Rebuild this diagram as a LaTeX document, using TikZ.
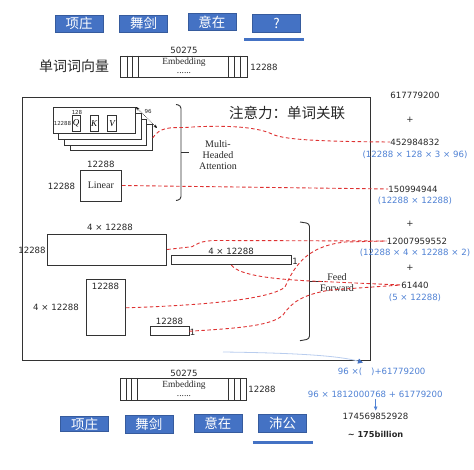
\documentclass[tikz,border=0pt]{standalone}
\usepackage{fontspec}
\setmainfont{Liberation Serif}
\newfontfamily\cjk{Noto Sans CJK SC}
\newfontfamily\numf{DejaVu Sans}
\usetikzlibrary{arrows.meta}
\definecolor{boxblue}{RGB}{68,114,196}
\definecolor{textblue}{RGB}{79,129,212}
\definecolor{dashred}{RGB}{222,50,50}
\definecolor{lightline}{RGB}{185,205,238}
\tikzset{
 num/.style={font=\numf\fontsize{8.6}{10}\selectfont, text=black!85, inner sep=0pt},
 bnum/.style={num, text=textblue},
 tiny/.style={font=\numf\fontsize{5.5}{6}\selectfont, text=black!85, inner sep=0pt},
 serif/.style={font=\fontsize{10}{11}\selectfont, text=black!85, inner sep=0pt, align=center},
 embtxt/.style={font=\fontsize{9.4}{10}\selectfont, text=black!85, inner sep=0pt},
 cjklbl/.style={font=\cjk\fontsize{14}{15}\selectfont, text=black!85, inner sep=0pt},
 wordbox/.style={fill=boxblue, draw=boxblue!80!black, line width=0.5pt, minimum width=48pt, minimum height=17pt, inner sep=0pt, text=white, font=\cjk\fontsize{13.5}{14}\selectfont},
 bx/.style={draw=black!80, line width=0.9pt, inner sep=0pt},
 reddash/.style={draw=dashred, line width=0.9pt, dash pattern=on 3.5pt off 2.5pt},
 uline/.style={draw=boxblue, line width=3pt},
 brace/.style={draw=black!80, line width=0.9pt, rounded corners=3pt},
 embline/.style={draw=black!80, line width=0.9pt},
}
\begin{document}
\begin{tikzpicture}[x=1pt,y=-1pt]
\useasboundingbox (0,0) rectangle (474,470);
% top words
\node[wordbox] (w1) at (79.2,23.5) {项庄};
\node[wordbox] (w2) at (143.5,23.7) {舞剑};
\node[wordbox] (w3) at (211.8,22.2) {意在};
\node[wordbox, minimum height=18pt] (w4) at (276.5,23.3) {?};
\draw[uline] (244.3,40) -- (304.3,40);
% top embedding
\node[cjklbl] (wv) at (74,66) {单词词向量};
\node[bx, minimum width=126.5pt, minimum height=21.7pt] (embT) at (183.8,66.9) {};
\foreach \d in {7,12.6,18.6}{
  \draw[embline] ([xshift=\d pt]embT.north west) -- ([xshift=\d pt]embT.south west);
  \draw[embline] ([xshift=-\d pt]embT.north east) -- ([xshift=-\d pt]embT.south east);
}
\node[num] (embTn) at (184,50) {50275};
\node[embtxt] (embTt) at (184,62.5) {Embedding};
\node[embtxt] (embTd) at (184,73.5) {......};
\node[num] (embTr) at (264,67) {12288};
% frame
\node[bx, minimum width=348pt, minimum height=263.5pt, anchor=north west] (frame) at (22,97) {};
\node[cjklbl, font=\cjk\fontsize{14.5}{15}\selectfont] (title) at (287,113) {注意力：单词关联};
% attention stack
\foreach \i in {3,2,1,0}{
  \node[bx, fill=white, minimum width=82.3pt, minimum height=26pt, anchor=north west] (lay\i) at (52.7+5.6*\i,107+5.8*\i) {};
}
\node[bx, minimum width=7.7pt, minimum height=16.7pt] (qb) at (76.2,123.4) {};
\node[bx, minimum width=8.3pt, minimum height=16.7pt] (kb) at (94.2,123.4) {};
\node[bx, minimum width=9pt, minimum height=16.7pt] (vb) at (112.2,123.4) {};
\node[font=\itshape\fontsize{9}{10}\selectfont, inner sep=0pt] (qt) at (qb) {Q};
\node[font=\itshape\fontsize{9}{10}\selectfont, inner sep=0pt] (kt) at (kb) {K};
\node[font=\itshape\fontsize{9}{10}\selectfont, inner sep=0pt] (vt) at (vb) {V};
\node[tiny] (q128) at (77,112.3) {128};
\node[tiny] (q12288) at (62.5,123.2) {12288};
\coordinate (a96) at (157,128);
\draw[line width=0.6pt, densely dotted, {Stealth[length=3.5pt,width=3pt]}-{Stealth[length=3.5pt,width=3pt]}] (lay0.north east) -- (a96);
\node[tiny] (t96) at (148,111.5) {96};
% MHA brace
\draw[brace] (176,104.5) -- (181,105.5) -- (181,199.5) -- (176,200.5);
\draw[brace] (181,152.7) -- (189,152.7);
\node[serif] (mha) at (218,155) {Multi-\\Headed\\Attention};
% Linear
\node[bx, minimum width=41.7pt, minimum height=31pt] (lin) at (100.8,185.5) {};
\node[serif] (lint) at (lin) {Linear};
\node[num] (linTop) at (100.8,164.8) {12288};
\node[num] (linLeft) at (61.5,186.7) {12288};
% FF boxes
\node[bx, minimum width=119pt, minimum height=31pt] (ffA) at (107.2,249.5) {};
\node[num] (ffAtop) at (110,227.7) {4 × 12288};
\node[num] (ffAleft) at (32,250.7) {12288};
\node[bx, minimum width=119.3pt, minimum height=8.7pt] (bar1) at (231.3,260.3) {};
\node[num] (bar1top) at (231,251.5) {4 × 12288};
\node[num] (bar1r) at (295,261.5) {1};
\node[bx, minimum width=39.3pt, minimum height=55.7pt] (tall) at (105.7,307.8) {};
\node[num] (talltop) at (105.5,286.3) {12288};
\node[num] (tallleft) at (56,307.3) {4 × 12288};
\node[bx, minimum width=39pt, minimum height=9pt] (bar2) at (169.5,331.2) {};
\node[num] (bar2top) at (169.5,321.7) {12288};
\node[num] (bar2r) at (192.5,332.5) {1};
% FF brace
\draw[brace] (300,222) -- (309.5,223.5) -- (309.5,339) -- (300,340.7);
\draw[brace] (309.5,281) -- (323,281);
\node[serif] (ff) at (337,282.5) {Feed\\Forward};
% right column
\node[num] (n0) at (415,95) {617779200};
\node[num] (p1) at (410,120) {+};
\node[num] (n1) at (415,142) {452984832};
\node[bnum] (f1) at (415,154.5) {(12288 × 128 × 3 × 96)};
\node[num] (n2) at (413,189) {150994944};
\node[bnum] (f2) at (415,201) {(12288 × 12288)};
\node[num] (p2) at (410,224) {+};
\node[num] (n3) at (417,241) {12007959552};
\node[bnum] (f3) at (415,252.5) {(12288 × 4 × 12288 × 2)};
\node[num] (p3) at (410,268) {+};
\node[num] (n4) at (415,285) {61440};
\node[bnum] (f4) at (415,298.3) {(5 × 12288)};
% red dashed connectors
\draw[reddash] (lay3.east) .. controls (160,127) and (170,127.5) .. (185,127.5) .. controls (220,125) and (255,126) .. (272,134) .. controls (282,139) and (310,141.5) .. (n1.west);
\draw[reddash] (lin.east) -- (n2.west);
\draw[reddash] (ffA.east) -- (192,246.7) .. controls (197,244) and (200,241) .. (215,240.5) -- (n3.west);
\draw[reddash] (bar1.south) .. controls (240,276) and (275,279) .. (310,281) -- (n4.west);
\draw[reddash] (tall.east) .. controls (215,305) and (272,298) .. (285,287) .. controls (296,262) and (310,246) .. (345,242) -- (n3.west);
\draw[reddash] (bar2.east) .. controls (245,328) and (272,325) .. (283,315) .. controls (292,302) and (302,295) .. (330,290) -- (n4.west);
% bottom blue arrow
\coordinate (ba) at (223,352);
\coordinate (bb) at (363,362.5);
\draw[draw=lightline, line width=0.8pt, -{Triangle[length=5pt,width=5pt,color=boxblue]}] (ba) .. controls (300,353) and (340,356) .. (bb);
\node[bnum] (f5a) at (381.7,371.7) {96 ×(\hspace{9pt})+61779200};
\node[bnum] (f5) at (375.3,394) {96 × 1812000768 + 61779200};
\node[num] (n5) at (375.5,416.5) {174569852928};
\node[num, font=\numf\bfseries\fontsize{8.2}{10}\selectfont] (n6) at (375.5,434) {\textasciitilde\ 175billion};
\coordinate (da) at (375.7,399);
\coordinate (db) at (375.7,410.5);
\draw[textblue, line width=0.6pt, -{Triangle[length=4pt,width=3.5pt]}] (da) -- (db);
% bottom embedding
\node[bx, minimum width=126.7pt, minimum height=21.7pt] (embB) at (183.4,389.2) {};
\foreach \d in {6.7,12.3,18.3}{
  \draw[embline] ([xshift=\d pt]embB.north west) -- ([xshift=\d pt]embB.south west);
  \draw[embline] ([xshift=-\d pt]embB.north east) -- ([xshift=-\d pt]embB.south east);
}
\node[num] (embBn) at (184,373) {50275};
\node[embtxt] (embBt) at (184,384.8) {Embedding};
\node[embtxt] (embBd) at (184,395.8) {......};
\node[num] (embBr) at (262,389.3) {12288};
% bottom words
\node[wordbox, minimum height=15pt] (b1) at (84.7,424.2) {项庄};
\node[wordbox, minimum height=17.6pt] (b2) at (148.8,424.5) {舞剑};
\node[wordbox, minimum height=18.4pt] (b3) at (217.8,423.5) {意在};
\node[wordbox, minimum height=18.4pt] (b4) at (282.5,423.5) {沛公};
\draw[uline] (252.7,442.3) -- (313.3,442.3);
\end{tikzpicture}
\end{document}
